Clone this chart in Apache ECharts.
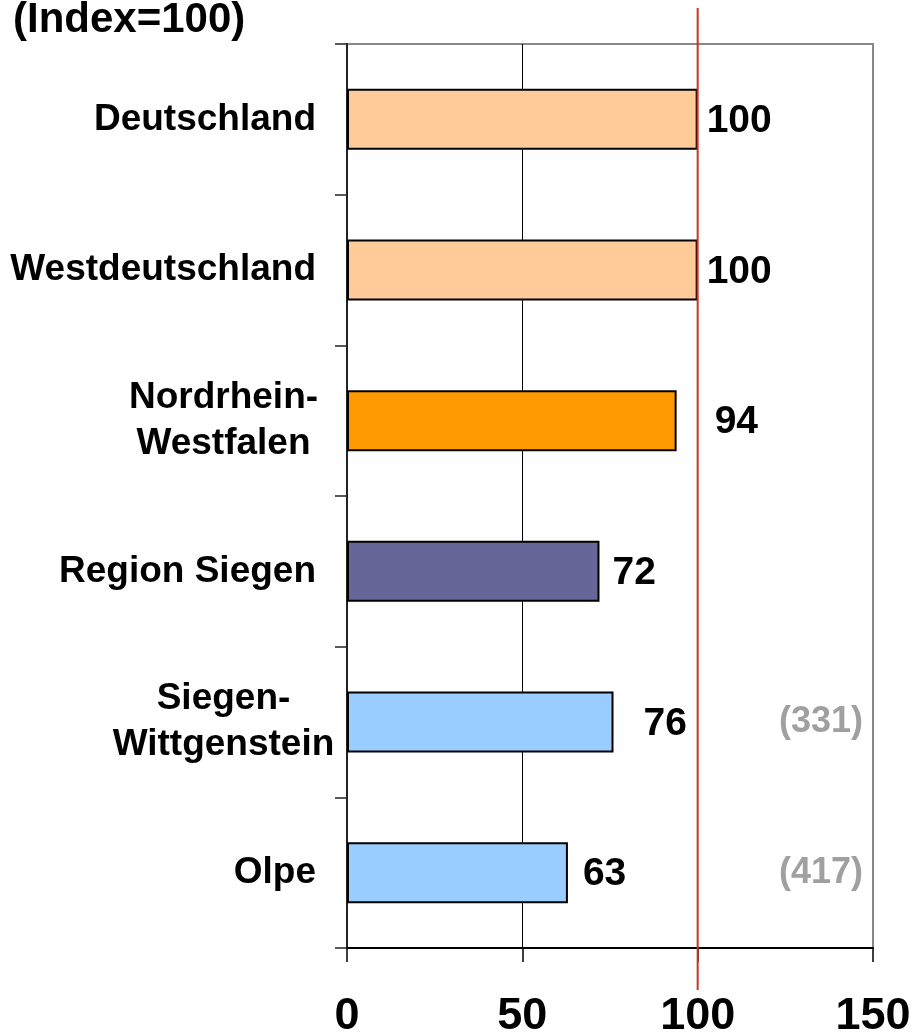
<!DOCTYPE html>
<html>
<head>
<meta charset="utf-8">
<script src="https://cdn.jsdelivr.net/npm/echarts@6/dist/echarts.min.js"></script>
<style>
  html, body { margin: 0; padding: 0; background: #fff; }
  #chart { width: 915px; height: 1034px; }
</style>
</head>
<body>
<div id="chart"></div>
<script>
// Regions and their index values (Germany = 100)
const categories = ['Deutschland', 'Westdeutschland', 'Nordrhein-\nWestfalen', 'Region Siegen', 'Siegen-\nWittgenstein', 'Olpe'];
const values = [100, 100, 94, 72, 76, 63];
// Rank numbers shown in grey at the right edge
const notes = ['', '', '', '', '(331)', '(417)'];
const xTicks = [0, 50, 100, 150];
const referenceLevel = 100;
const titleText = '(Index=100)';

// Styling
const barColors = ['#FFCC99', '#FFCC99', '#FF9900', '#666699', '#99CCFF', '#99CCFF'];
const labelGap = [9, 9, 38, 13, 30, 15];
const FONT = '"Liberation Sans", Arial, sans-serif';

const chart = echarts.init(document.getElementById('chart'), null, { renderer: 'canvas' });

const yData = categories.map(c => c.indexOf('\n') >= 0
  ? { value: c, textStyle: { align: 'center', padding: [0, 185, 0, 0], lineHeight: 46 } }
  : c);

const option = {
  animation: false,
  backgroundColor: '#fff',
  title: {
    text: titleText,
    left: 8, top: -6,
    textStyle: { fontFamily: FONT, fontWeight: 'bold', fontSize: 42, color: '#000' }
  },
  grid: {
    left: 347, right: 42, top: 44, bottom: 86,
    outerBoundsMode: 'none',
    containLabel: false,
    show: true, borderColor: '#888', borderWidth: 2, backgroundColor: '#fff'
  },
  xAxis: {
    type: 'value',
    min: xTicks[0], max: xTicks[xTicks.length - 1], interval: xTicks[1] - xTicks[0],
    axisLine: { show: true, lineStyle: { color: '#000', width: 2 } },
    axisTick: { show: true, length: 14, lineStyle: { color: '#000', width: 1.5 } },
    splitLine: { show: true, showMaxLine: false, lineStyle: { color: '#000', width: 1 } },
    axisLabel: { margin: 46, fontFamily: FONT, fontWeight: 'bold', fontSize: 45, color: '#000' }
  },
  yAxis: {
    type: 'category',
    inverse: true,
    data: yData,
    axisLine: { show: true, lineStyle: { color: '#222', width: 2 } },
    axisTick: { show: true, length: 12, lineStyle: { color: '#222', width: 1.5 } },
    splitLine: { show: false },
    axisLabel: { margin: 31, fontFamily: FONT, fontWeight: 'bold', fontSize: 37, color: '#000', lineHeight: 46 }
  },
  series: [
    {
      type: 'bar',
      barWidth: 61,
      data: values.map((v, i) => ({
        value: v,
        itemStyle: { color: barColors[i], borderColor: '#000', borderWidth: 2 },
        label: { distance: labelGap[i] }
      })),
      label: {
        show: true, position: 'right', offset: [0, 2],
        fontFamily: FONT, fontWeight: 'bold', fontSize: 39, color: '#000'
      },
      z: 3
    },
    {
      type: 'scatter',
      silent: true,
      symbolSize: 0,
      data: notes.map((n, i) => n ? { value: [xTicks[xTicks.length - 1], categories[i]], note: n } : null).filter(Boolean),
      label: {
        show: true, position: 'left', distance: 10,
        formatter: p => p.data.note,
        fontFamily: FONT, fontWeight: 'bold', fontSize: 36, color: '#888'
      },
      z: 4
    }
  ]
};

chart.setOption(option);

// Red reference line at index 100, reaching above and below the plot
const refX = chart.convertToPixel({ xAxisIndex: 0 }, referenceLevel);
chart.setOption({
  graphic: [{
    type: 'line',
    shape: { x1: refX, y1: 8, x2: refX, y2: 990 },
    style: { stroke: '#CC3322', lineWidth: 2 },
    z: 10
  }]
});
</script>
</body>
</html>
